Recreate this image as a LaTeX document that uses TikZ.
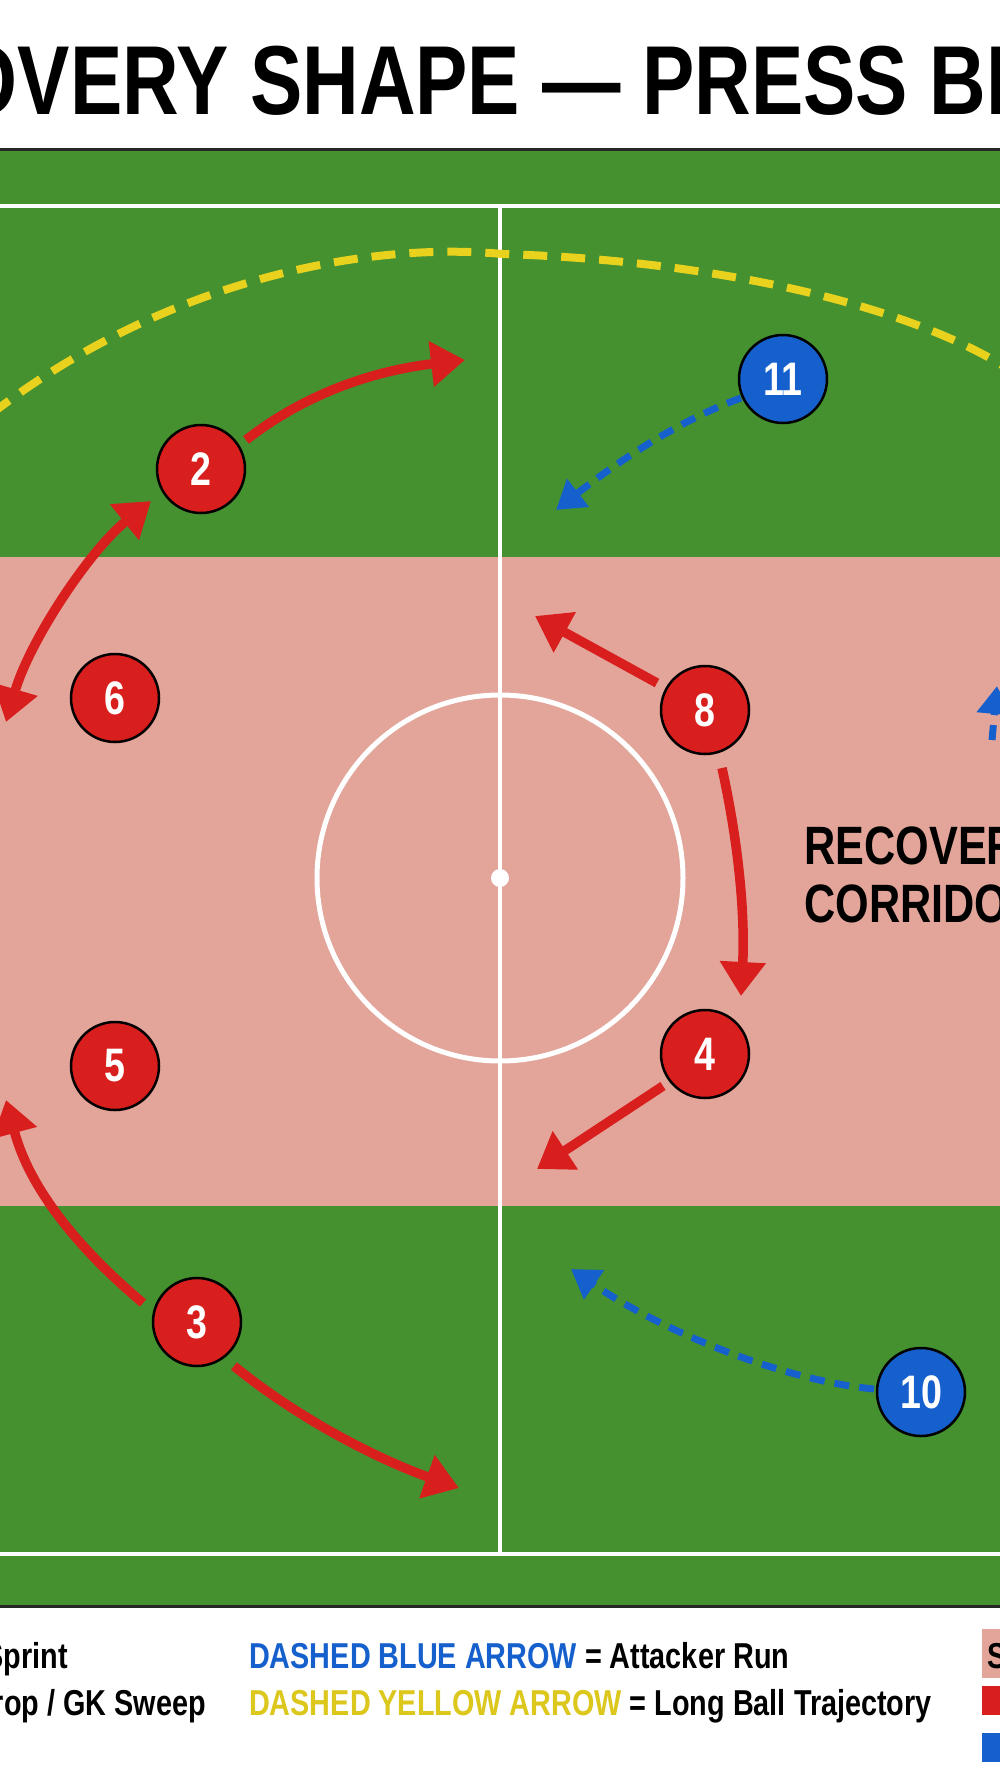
\documentclass[tikz,border=0pt]{standalone}
\usepackage{fontspec}
\setmainfont{Liberation Sans}[FakeStretch=0.8]
\usetikzlibrary{arrows.meta}
\definecolor{grass}{HTML}{45912F}
\definecolor{band}{HTML}{E3A59A}
\definecolor{pred}{HTML}{D91E1E}
\definecolor{pblue}{HTML}{1560CC}
\definecolor{pyel}{HTML}{E8D21E}
\begin{document}
\begin{tikzpicture}[x=1pt,y=-1pt,
 red/.style={circle,draw=black,line width=2.5pt,fill=pred,minimum size=88pt,inner sep=0pt,text=white,font=\bfseries\fontsize{47}{47}\selectfont},
 blue/.style={red,fill=pblue},
 run/.style={pred,line width=9.5pt,-{Triangle[length=34pt,width=44pt]}},
 brun/.style={pblue,line width=7pt,dash pattern=on 15pt off 10pt,-{Triangle[length=28pt,width=34pt]}},
 lg/.style={anchor=base west,font=\bfseries\fontsize{36}{36}\selectfont,inner sep=0pt}]
\useasboundingbox (0,0) rectangle (1000,1792);
\clip (0,0) rectangle (1000,1792);
\fill[white] (0,0) rectangle (1000,1792);
\node[font=\bfseries\fontsize{98}{98}\selectfont,anchor=base] (title) at (500,114) {RECOVERY SHAPE — PRESS BREAK};
\fill[grass] (0,149) rectangle (1000,1606);
\draw[line width=3pt,black!85] (0,149) -- (1000,149) (0,1606)--(1000,1606);
\fill[band] (0,557) rectangle (1000,1206);
\draw[white,line width=4pt] (-10,206) rectangle (1010,1554);
\draw[white,line width=4pt] (500,206) -- (500,1554);
\draw[white,line width=5pt] (500,878) circle (183);
\fill[white] (500,878) circle (9);
% yellow
\draw[pyel,line width=8pt,dash pattern=on 24pt off 14pt] (-10,415) .. controls (150,290) and (350,240) .. (503,254) .. controls (700,260) and (900,300) .. (1010,370);
\node[font=\bfseries\fontsize{54}{58}\selectfont,align=left,anchor=west] (corr) at (801,875) {RECOVERY\\CORRIDOR};
\node[red] (p2) at (201,469) {2};
\node[red] (p6) at (115,698) {6};
\node[red] (p5) at (115,1066) {5};
\node[red] (p3) at (197,1322) {3};
\node[red] (p8) at (705,710) {8};
\node[red] (p4) at (705,1054) {4};
\node[blue] (p11) at (783,379) {11};
\node[blue] (p10) at (921,1392) {10};
\coordinate (a2) at (465,360);
\coordinate (l1) at (6,722);
\coordinate (l2) at (6,1100);
\coordinate (a3) at (459,1488);
\coordinate (a8) at (535,616);
\coordinate (a4) at (537,1169);
\coordinate (b11) at (556,510);
\coordinate (b10) at (571,1269);
\coordinate (bR) at (997,686);
\coordinate (bR0) at (992,740);
\draw[run] (246,440) .. controls (310,390) and (380,370) .. (a2);
\draw[run,{Triangle[length=34pt,width=44pt]}-{Triangle[length=34pt,width=44pt]}] (l1) .. controls (30,640) and (90,550) .. (151,501);
\draw[run] (143,1303) .. controls (80,1250) and (30,1190) .. (l2);
\draw[run] (234,1366) .. controls (300,1420) and (380,1460) .. (a3);
\draw[run] (657,683) -- (a8);
\draw[run] (722,768) .. controls (740,850) and (745,920) .. (741,996);
\draw[run] (663,1086) -- (a4);
\draw[brun] (741,398) .. controls (680,420) and (620,460) .. (b11);
\draw[brun] (874,1389) .. controls (780,1380) and (660,1330) .. (b10);
\draw[brun] (bR0) -- (bR);
% legend
\node[lg,anchor=base east] (l1t) at (68,1668) {Recovery Sprint};
\node[lg,anchor=base east] (l2t) at (206,1715) {Cover Drop / GK Sweep};
\node[lg] (l3t) at (249,1668) {\textcolor{pblue}{DASHED BLUE ARROW} = Attacker Run};
\node[lg] (l4t) at (249,1715) {\textcolor{pyel!95!black}{DASHED YELLOW ARROW} = Long Ball Trajectory};
\fill[band] (982,1629) rectangle (1010,1678);
\node[lg] (l5t) at (987,1668) {S};
\fill[pred] (982,1686) rectangle (1010,1715);
\fill[pblue] (982,1733) rectangle (1010,1762);
\end{tikzpicture}
\end{document}
